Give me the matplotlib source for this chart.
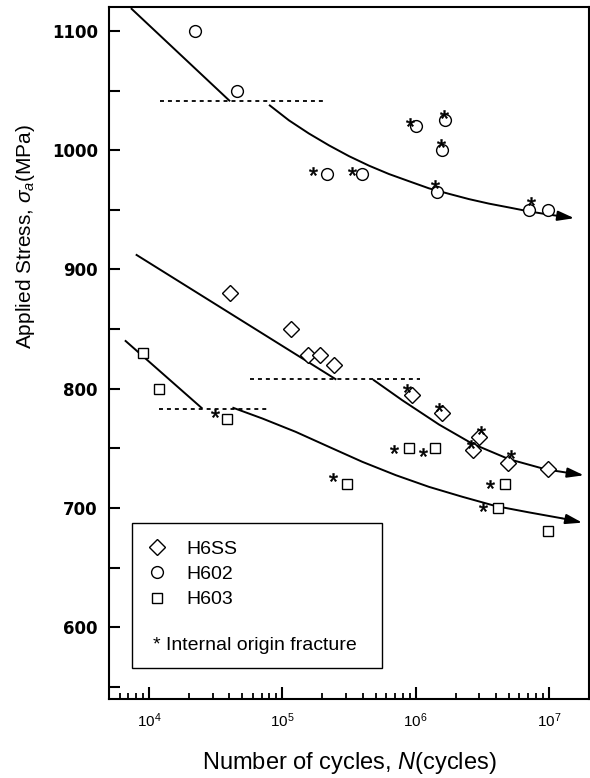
import matplotlib
matplotlib.use("Agg")
import matplotlib.pyplot as plt
from matplotlib.patches import Rectangle
from matplotlib.transforms import ScaledTranslation
from matplotlib.ticker import MultipleLocator, LogLocator

plt.rcParams['font.family'] = ['Liberation Sans', 'DejaVu Sans']
plt.rcParams['mathtext.fontset'] = 'custom'
plt.rcParams['mathtext.rm'] = 'Liberation Sans'
plt.rcParams['mathtext.it'] = 'Liberation Sans:italic'

# ---- data ----
# H6SS (diamonds)
h6ss_n = [4.05e4, 1.16e5, 1.56e5, 1.92e5, 2.44e5, 9.45e5, 1.585e6, 2.99e6, 2.71e6, 4.95e6, 9.9e6]
h6ss_s = [880, 850, 828, 828, 820, 795, 780, 760, 749, 738, 733]
h6ss_int = [0, 0, 0, 0, 0, 1, 1, 1, 1, 1, 0]

# H602 (circles)
h602_n = [2.2e4, 4.55e4, 2.17e5, 3.98e5, 1.0e6, 1.66e6, 1.585e6, 1.44e6, 7.1e6, 9.9e6]
h602_s = [1100, 1050, 980, 980, 1020, 1025, 1000, 965, 950, 950]
h602_int = [0, 0, 1, 1, 1, 1, 1, 1, 1, 0]

# H603 (squares)
h603_n = [9.06e3, 1.19e4, 3.87e4, 3.05e5, 8.9e5, 1.39e6, 4.68e6, 4.17e6, 9.9e6]
h603_s = [830, 800, 775, 720, 750, 750, 720, 700, 681]
h603_int = [0, 0, 1, 1, 1, 1, 1, 1, 0]

# fitted S-N lines
h602_hi_n = [7.3e3, 4.05e4]
h602_hi_s = [1119, 1041]
h602_lo_n = [7.94e4, 1.12e5, 1.58e5, 2.24e5, 3.16e5, 4.47e5, 6.31e5, 8.9e5, 1.26e6,
             1.78e6, 2.51e6, 3.55e6, 5.01e6, 7.08e6, 1.0e7, 1.55e7]
h602_lo_s = [1038, 1025, 1014, 1004, 995, 987, 980, 974, 968,
             963.4, 959, 955.2, 952, 948.7, 946, 943]
h602_lim_n = [1.21e4, 2.06e5]
h602_lim_s = 1041

h6ss_hi_n = [7.94e3, 2.54e5]
h6ss_hi_s = [912.6, 807.7]
h6ss_lo_n = [4.79e5, 7.94e5, 1.5e6, 2.66e6, 5.02e6, 9.46e6, 1.83e7]
h6ss_lo_s = [807.7, 790.4, 770, 754, 741, 732.5, 727.5]
h6ss_lim_n = [5.72e4, 1.08e6]
h6ss_lim_s = 808

h603_hi_n = [6.58e3, 2.51e4]
h603_hi_s = [840.6, 783.4]
h603_lo_n = [4.22e4, 7.08e4, 1.26e5, 2.24e5, 3.98e5, 7.1e5, 1.26e6, 2.24e6, 3.99e6, 7.1e6, 1.26e7, 1.78e7]
h603_lo_s = [784.3, 775.1, 763.9, 751.3, 738.8, 727.6, 717.8, 709.5, 701.7, 696.4, 691.4, 687.8]
h603_lim_n = [1.19e4, 7.86e4]
h603_lim_s = 783

# where the "*" sits beside each internal-origin point (pixels right, pixels down)
h6ss_star_off = [(-5, -7), (-3, -6), (2, -7), (-2, -6), (3, -9)]
h602_star_off = [(-14, -3), (-10, -3), (-6, -4), (-1, -6), (-1, -7), (-2, -8), (2, -9)]
h603_star_off = [(-12, -6), (-14, -7), (-15, 1), (-12, 4), (-15, 0), (-15, -1)]

fig = plt.figure(figsize=(5.9, 7.78), dpi=100)
ax = fig.add_axes([109/590, 1-699/778, 480/590, 692/778])
ax.set_xscale('log')
ax.set_xlim(5e3, 2e7)
ax.set_ylim(540, 1120)

mk = dict(linestyle='none', mfc='white', mec='black', mew=1.0, zorder=3)
l1, = ax.plot(h6ss_n, h6ss_s, marker='D', ms=8.5, label='H6SS', **mk)
l2, = ax.plot(h602_n, h602_s, marker='o', ms=8.5, label='H602', **mk)
l3, = ax.plot(h603_n, h603_s, marker='s', ms=7.5, label='H603', **mk)

line_kw = dict(color='black', lw=1.4, solid_capstyle='butt', solid_joinstyle='round', zorder=2)
dot_kw = dict(color='black', lw=1.3, dashes=(2.2, 2.2), zorder=2)
for hn, hs, ln, ls, lim_n, lim_s in [
        (h602_hi_n, h602_hi_s, h602_lo_n, h602_lo_s, h602_lim_n, h602_lim_s),
        (h6ss_hi_n, h6ss_hi_s, h6ss_lo_n, h6ss_lo_s, h6ss_lim_n, h6ss_lim_s),
        (h603_hi_n, h603_hi_s, h603_lo_n, h603_lo_s, h603_lim_n, h603_lim_s)]:
    ax.plot(hn, hs, **line_kw)
    ax.plot(ln[:-1], ls[:-1], **line_kw)
    ax.annotate('', xy=(ln[-1], ls[-1]), xytext=(ln[-2], ls[-2]),
                arrowprops=dict(arrowstyle='-|>,head_length=1.0,head_width=0.3',
                                color='black', lw=1.4, mutation_scale=10,
                                shrinkA=0, shrinkB=0), zorder=2)
    ax.plot(lim_n, [lim_s, lim_s], **dot_kw)

# internal origin stars
for ns, ss, flags, offs in [(h6ss_n, h6ss_s, h6ss_int, h6ss_star_off),
                            (h602_n, h602_s, h602_int, h602_star_off),
                            (h603_n, h603_s, h603_int, h603_star_off)]:
    k = 0
    for n, s, f in zip(ns, ss, flags):
        if not f:
            continue
        dx, dy = offs[k]
        k += 1
        tr = ax.transData + ScaledTranslation(dx/100, -dy/100, fig.dpi_scale_trans)
        ax.plot([n], [s], marker='$*$', ms=6, mew=0.4, color='black',
                transform=tr, zorder=4)

# axes styling
for sp in ax.spines.values():
    sp.set_linewidth(1.5)
ax.yaxis.set_major_locator(MultipleLocator(100))
ax.yaxis.set_minor_locator(MultipleLocator(50))
ax.xaxis.set_major_locator(LogLocator(base=10, numticks=10))
ax.xaxis.set_minor_locator(LogLocator(base=10, subs=range(2, 10), numticks=20))
ax.tick_params(which='both', direction='in', top=False, right=False)
ax.tick_params(axis='x', which='major', length=9, width=1.5, labelsize=11, pad=9)
ax.tick_params(axis='x', which='minor', length=4.5, width=1.3)
ax.tick_params(axis='y', which='major', length=8, width=1.5, labelsize=12, pad=8)
ax.tick_params(axis='y', which='minor', length=8, width=1.5)
ax.set_yticks([600, 700, 800, 900, 1000, 1100])
for t in ax.get_yticklabels():
    t.set_fontfamily('DejaVu Sans')
    t.set_fontweight('bold')

ax.set_xlabel('Number of cycles, $\\mathit{N}$(cycles)', fontsize=17, labelpad=14)
ax.set_ylabel('Applied Stress, $\\mathit{\\sigma_a}$(MPa)', fontsize=15)
ax.yaxis.set_label_coords(-0.15, 0.668)

# legend box
ax.add_patch(Rectangle((0.048, 0.0448), 0.521, 0.209, transform=ax.transAxes,
                       fill=False, lw=1.0, edgecolor='black', zorder=5))
ax.legend(handles=[l1, l2, l3], loc='upper left', bbox_to_anchor=(0.0798, 0.2297),
          frameon=False, fontsize=14, handlelength=1.0, handletextpad=0.99,
          labelspacing=0.40, borderpad=0, borderaxespad=0)
ax.text(0.0917, 0.0766, '* Internal origin fracture', transform=ax.transAxes,
        fontsize=14, va='center', ha='left')

fig.savefig('out.png', dpi=100)
